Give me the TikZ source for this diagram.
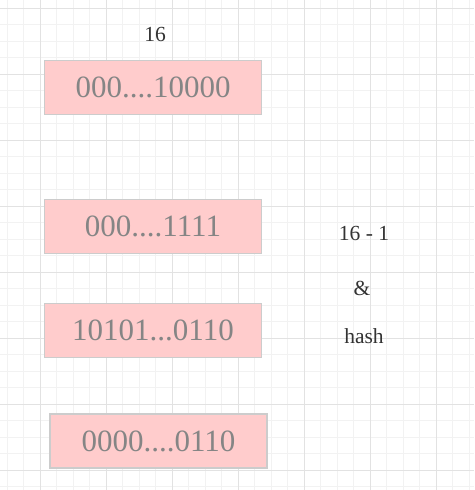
\documentclass[tikz,border=0pt]{standalone}
\usepackage{fontspec}
\setmainfont{Liberation Serif}
\definecolor{minorgrid}{HTML}{F2F2F2}
\definecolor{majorgrid}{HTML}{E2E2E2}
\definecolor{boxfill}{HTML}{FFCCCC}
\definecolor{boxline}{HTML}{CCCCCC}
\definecolor{boxtext}{HTML}{858585}
\definecolor{labeltext}{HTML}{333333}
\tikzset{
  minorline/.style={draw=minorgrid, line width=0.8pt},
  majorline/.style={draw=majorgrid, line width=1pt},
  bitbox/.style={draw=boxline, fill=boxfill, line width=1.5pt, minimum height=54pt, inner sep=0pt, text=boxtext, font=\fontsize{31}{35}\selectfont},
  lbl/.style={text=labeltext, font=\fontsize{21.5}{25}\selectfont, inner sep=0pt}
}
\begin{document}
\begin{tikzpicture}[x=1pt, y=-1pt]
\useasboundingbox (0,0) rectangle (474,490);
\begin{scope}
\clip (0,0) rectangle (474,490);
\fill[white] (0,0) rectangle (474,490);
\foreach \i in {-2,...,26} { \draw[minorline] ({40+16.5*\i},0) -- ({40+16.5*\i},490); }
\foreach \k in {0,...,29} { \draw[minorline] (0,{8+16.5*\k}) -- (474,{8+16.5*\k}); }
\foreach \j in {0,...,6} { \draw[majorline] ({40+66*\j},0) -- ({40+66*\j},490); }
\foreach \j in {0,...,7} { \draw[majorline] (0,{8+66*\j}) -- (474,{8+66*\j}); }
\end{scope}
\node[bitbox, minimum width=217pt] (b1) at (153,87.5) {000....10000};
\node[bitbox, minimum width=217pt] (b2) at (153,226.5) {000....1111};
\node[bitbox, minimum width=217pt] (b3) at (153,330.5) {10101...0110};
\node[bitbox, minimum width=217pt] (b4) at (158.5,441) {0000....0110};
\node[lbl] (l16) at (155,34) {16};
\node[lbl] (lmask) at (364,233) {16 - 1};
\node[lbl] (land) at (362,288) {\&};
\node[lbl] (lhash) at (364,336) {hash};
\end{tikzpicture}
\end{document}
